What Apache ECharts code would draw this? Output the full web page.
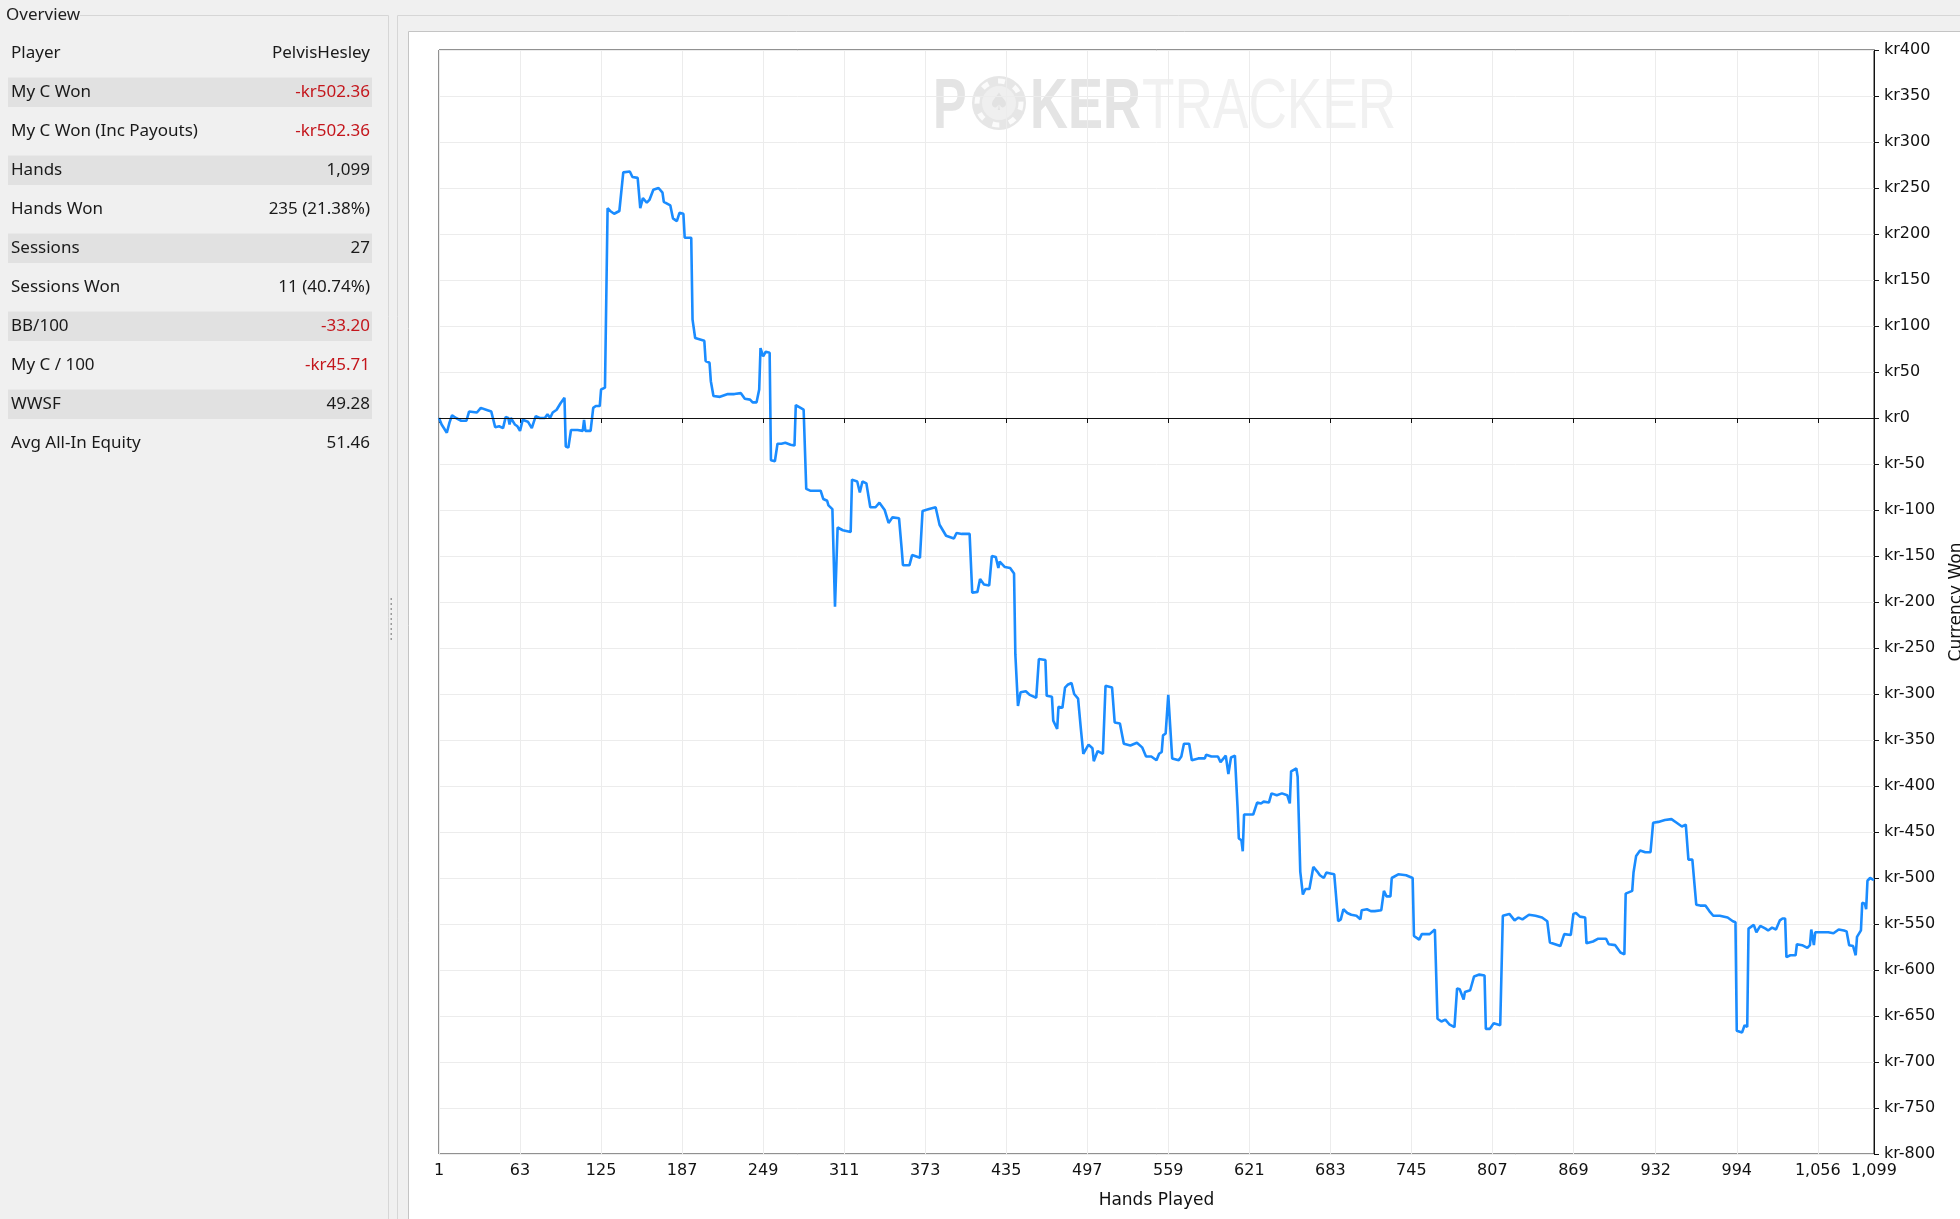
<!DOCTYPE html>
<html>
<head>
<meta charset="utf-8">
<script src="https://cdn.jsdelivr.net/npm/echarts@6/dist/echarts.min.js"></script>
<style>
html,body{margin:0;padding:0;background:#f0f0f0;}
#chart{width:1960px;height:1219px;}
</style>
</head>
<body>
<div id="chart"></div>
<script>
// ---- data ----
const hands = [1,3,7,9,11,14,18,22,24,30,33,37,41,44,47,50,52,54,55,56,59,61,63,65,69,72,75,78,82,84,86,88,91,94,97,98,100,102,107,111,112,113,117,119,121,124,125,128,130,132,135,139,142,147,149,153,155,157,160,162,165,169,172,173,178,180,183,185,188,189,194,195,197,204,205,208,209,211,216,222,227,232,235,239,241,244,246,247,249,251,254,255,258,260,263,266,270,273,274,280,282,285,293,295,298,299,302,304,306,310,316,317,321,323,325,328,331,335,338,342,345,348,353,355,356,361,363,369,371,376,381,384,389,395,397,401,407,409,413,415,418,422,424,427,429,430,434,438,441,442,443,444,446,450,453,458,460,465,466,470,471,474,475,478,480,482,485,487,490,492,494,498,501,502,505,509,511,516,518,522,525,530,535,539,542,546,550,552,554,555,557,559,562,567,569,571,575,577,582,587,588,592,597,599,603,605,607,610,612,613,615,616,617,624,627,630,632,636,638,642,646,650,652,653,657,658,660,662,664,667,670,673,675,678,680,683,686,689,691,693,696,699,703,706,707,711,714,717,722,724,726,729,730,735,741,746,747,751,753,759,763,765,768,771,774,778,780,782,785,786,790,793,797,801,802,805,808,813,815,820,824,827,830,835,840,845,849,851,855,859,862,867,869,871,874,878,879,884,888,894,896,901,905,908,909,914,915,917,920,924,928,930,934,939,944,948,952,955,957,960,963,966,970,973,976,981,987,991,993,994,998,1000,1002,1003,1004,1007,1009,1012,1016,1018,1021,1024,1027,1029,1031,1032,1035,1039,1040,1044,1048,1050,1051,1053,1054,1058,1064,1068,1072,1076,1078,1080,1083,1085,1086,1089,1090,1092,1093,1094,1096,1099];
const won = [0,-7,-16,-5,3,0,-3,-3,7,6,11,9,7,-10,-9,-11,1,0,-7,0,-7,-9,-14,-2,-4,-11,2,0,0,4,0,6,9,16,22,-31,-32,-13,-13,-14,-2,-14,-14,11,13,13,31,33,228,225,222,225,267,268,262,261,228,239,234,237,248,250,245,235,231,217,214,223,222,196,196,107,87,84,62,60,40,24,23,26,26,27,21,20,17,17,31,76,67,72,71,-46,-47,-28,-28,-27,-29,-30,14,9,-77,-79,-79,-88,-90,-95,-99,-205,-119,-122,-124,-67,-69,-81,-69,-71,-97,-97,-92,-100,-114,-108,-109,-142,-160,-160,-149,-152,-101,-99,-97,-116,-128,-131,-125,-126,-126,-190,-189,-175,-181,-182,-150,-151,-163,-156,-162,-163,-169,-257,-258,-313,-298,-297,-301,-304,-262,-263,-302,-303,-329,-338,-314,-315,-293,-290,-288,-300,-305,-336,-365,-355,-359,-373,-362,-365,-291,-293,-331,-332,-354,-356,-353,-358,-368,-368,-372,-365,-363,-345,-343,-301,-370,-372,-368,-354,-354,-372,-370,-370,-366,-368,-368,-374,-367,-387,-369,-367,-423,-457,-459,-471,-431,-431,-418,-419,-417,-418,-408,-410,-408,-410,-419,-384,-381,-390,-493,-518,-512,-512,-488,-493,-497,-500,-494,-495,-496,-547,-545,-534,-538,-540,-541,-545,-535,-534,-536,-536,-535,-514,-520,-520,-500,-496,-497,-500,-563,-567,-561,-561,-556,-653,-656,-654,-659,-662,-620,-621,-632,-624,-622,-607,-605,-606,-664,-664,-658,-660,-541,-539,-546,-543,-545,-540,-541,-543,-547,-570,-572,-574,-561,-562,-539,-538,-542,-543,-571,-569,-566,-566,-572,-573,-581,-583,-517,-514,-494,-476,-470,-472,-472,-440,-439,-437,-436,-440,-444,-442,-480,-480,-529,-530,-530,-536,-541,-541,-543,-547,-548,-666,-668,-660,-662,-555,-553,-551,-559,-552,-555,-557,-554,-556,-546,-544,-544,-586,-584,-584,-572,-573,-576,-573,-556,-573,-559,-559,-559,-560,-556,-557,-558,-573,-574,-584,-564,-557,-527,-528,-534,-503,-500,-502.36];
const xTicks = [1,63,125,187,249,311,373,435,497,559,621,683,745,807,869,932,994,1056,1099];
const statLabels = ['Player','My C Won','My C Won (Inc Payouts)','Hands','Hands Won','Sessions','Sessions Won','BB/100','My C / 100','WWSF','Avg All-In Equity'];
const statValues = ['PelvisHesley','-kr502.36','-kr502.36','1,099','235 (21.38%)','27','11 (40.74%)','-33.20','-kr45.71','49.28','51.46'];
const statNegative = [false,true,true,false,false,false,false,true,true,false,false];

// ---- chart ----
const chart = echarts.init(document.getElementById('chart'), null, {renderer:'canvas'});
const UI = '"Noto Sans", "Open Sans", sans-serif';
const AX = '"DejaVu Sans", sans-serif';
const WM = '"Liberation Sans", Arial, sans-serif';

const graphics = [];
// right-side frames
graphics.push({type:'line', z:-20, shape:{x1:397.5,y1:15.5,x2:1960,y2:15.5}, style:{stroke:'#d6d6d6',lineWidth:1}});
graphics.push({type:'line', z:-20, shape:{x1:397.5,y1:15.5,x2:397.5,y2:1219}, style:{stroke:'#d6d6d6',lineWidth:1}});
graphics.push({type:'rect', z:-15, shape:{x:408.5,y:31.5,width:1560,height:1200}, style:{fill:'#ffffff',stroke:'#c4c4c4',lineWidth:1}});
// overview group box
graphics.push({type:'line', z:-20, shape:{x1:80,y1:15.5,x2:388.5,y2:15.5}, style:{stroke:'#d6d6d6',lineWidth:1}});
graphics.push({type:'line', z:-20, shape:{x1:388.5,y1:15.5,x2:388.5,y2:1219}, style:{stroke:'#d6d6d6',lineWidth:1}});
graphics.push({type:'text', x:6, y:15, style:{text:'Overview', font:'17px '+UI, fill:'#222', verticalAlign:'middle', align:'left'}});
// splitter dots
for (let i = 0; i < 9; i++) {
  graphics.push({type:'rect', z:-10, shape:{x:390.5,y:598+i*5,width:1.5,height:2}, style:{fill:'#9a9a9a'}});
}
// stats table
statLabels.forEach((lab, i) => {
  const cy = 53 + i*39;
  if (i % 2 === 1) {
    graphics.push({type:'rect', z:-12, shape:{x:8,y:cy-14.5,width:364,height:29.5}, style:{fill:'#e1e1e1'}});
  }
  graphics.push({type:'text', x:11, y:cy, style:{text:lab, font:'17px '+UI, fill:'#1a1a1a', verticalAlign:'middle', align:'left'}});
  graphics.push({type:'text', x:370, y:cy, style:{text:statValues[i], font:'17px '+UI, fill: statNegative[i] ? '#c4161c' : '#1a1a1a', verticalAlign:'middle', align:'right'}});
});
// watermark
const wmTop = 74;
graphics.push({type:'text', z:-5, x:933, y:wmTop, scaleX:0.72, style:{text:'P', font:'bold 70px '+WM, fill:'#e4e4e4', verticalAlign:'top', align:'left'}});
graphics.push({type:'circle', z:-5, shape:{cx:999,cy:103,r:27}, style:{fill:'#e6e6e6'}});
graphics.push({type:'circle', z:-5, shape:{cx:999,cy:103,r:22}, style:{fill:'none',stroke:'#fbfbfb',lineWidth:5,lineDash:[7,10]}});
graphics.push({type:'circle', z:-5, shape:{cx:999,cy:103,r:17}, style:{fill:'#efefef'}});
graphics.push({type:'text', z:-5, x:999, y:104, style:{text:'\u2660', font:'24px "DejaVu Sans"', fill:'#e2e2e2', verticalAlign:'middle', align:'center'}});
graphics.push({type:'text', z:-5, x:1030, y:wmTop, scaleX:0.75, style:{text:'KER', font:'bold 70px '+WM, fill:'#e4e4e4', verticalAlign:'top', align:'left'}});
graphics.push({type:'text', z:-5, x:1142, y:wmTop, scaleX:0.76, style:{text:'TRACKER', font:'70px '+WM, fill:'#f1f1f1', verticalAlign:'top', align:'left'}});

const option = {
  animation: false,
  backgroundColor: '#f0f0f0',
  graphic: graphics,
  grid: {left:439, top:50, width:1435, height:1104, show:true, borderColor:'#222', borderWidth:1, backgroundColor:'transparent', containLabel:false, outerBoundsMode:'none'},
  xAxis: {
    type:'value', min:1, max:1099, position:'bottom',
    name:'Hands Played', nameLocation:'middle', nameGap:38,
    nameTextStyle:{fontSize:17, color:'#111', fontFamily:AX},
    axisLine:{show:true, lineStyle:{color:'#111', width:1}},
    axisTick:{show:true, customValues:xTicks, length:5, lineStyle:{color:'#111'}},
    axisLabel:{customValues:xTicks, fontSize:16, color:'#111', fontFamily:AX, margin:9, showMinLabel:true, showMaxLabel:true, hideOverlap:false,
      formatter: v => Number(v).toLocaleString('en-US')},
    splitLine:{show:true, lineStyle:{color:'#ececec', width:1}}
  },
  yAxis: {
    type:'value', min:-800, max:400, interval:50, position:'right',
    name:'Currency Won', nameLocation:'middle', nameGap:74, nameRotate:90,
    nameTextStyle:{fontSize:17, color:'#111', fontFamily:AX},
    axisLine:{show:true, onZero:false, lineStyle:{color:'#111', width:1}},
    axisTick:{show:true, length:5, lineStyle:{color:'#111'}},
    axisLabel:{fontSize:16, color:'#111', fontFamily:AX, margin:10, formatter: v => 'kr' + v},
    splitLine:{show:true, lineStyle:{color:'#ececec', width:1}}
  },
  series: [{
    type:'line',
    data: hands.map((h, i) => [h, won[i]]),
    showSymbol:false,
    symbol:'none',
    lineStyle:{color:'#1a8cff', width:2.6},
    itemStyle:{color:'#1a8cff'},
    z:3,
    markLine:{
      silent:true, symbol:['none','none'], animation:false,
      label:{show:false},
      lineStyle:{color:'#111', width:1.2, type:'solid'},
      data:[{yAxis:0}]
    }
  }]
};
chart.setOption(option);
</script>
</body>
</html>
